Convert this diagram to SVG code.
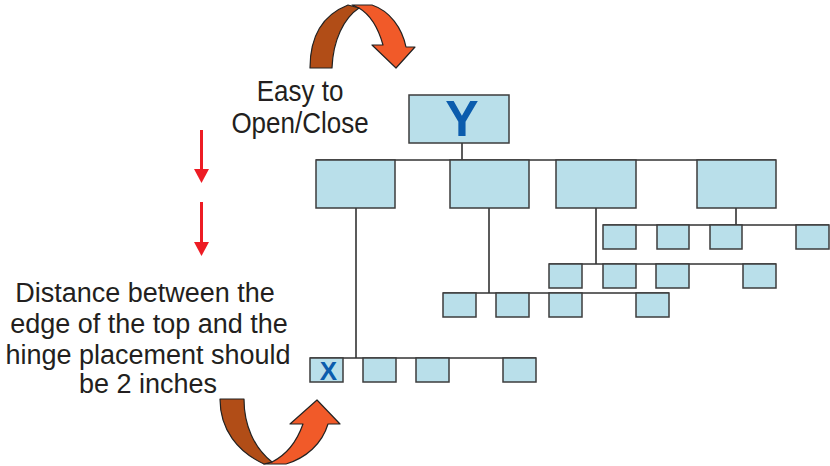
<svg xmlns="http://www.w3.org/2000/svg" width="830" height="466" viewBox="0 0 830 466">
<defs>
<style>
.box{fill:#b9dfea;stroke:#3d3d3d;stroke-width:1.5}
.ln{stroke:#333;stroke-width:1.6;fill:none}
.lbl{font-family:"Liberation Sans",Arial,sans-serif;fill:#231f20;text-anchor:middle}
.big{font-family:"Liberation Sans",Arial,sans-serif;font-weight:bold;fill:#0b5cad;text-anchor:middle}
.red{stroke:#ed1c24;stroke-width:3;fill:none}
.brown{fill:#b14d17;stroke:#222;stroke-width:1.2;stroke-linejoin:round}
.orange{fill:#f15a29;stroke:#222;stroke-width:1.2;stroke-linejoin:round}
</style>
<marker id="rh" viewBox="0 0 14 15" markerWidth="14" markerHeight="15" refX="6" refY="7.5" orient="auto" markerUnits="userSpaceOnUse">
<path d="M0,0 L14,7.5 L0,15 Z" fill="#ed1c24"/>
</marker>
</defs>
<rect width="830" height="466" fill="#fff"/>

<g id="connectors">
<path class="ln" d="M462,143 V160 M316,160 H776"/>
<path class="ln" d="M356,208 V358 M310,358 H536"/>
<path class="ln" d="M489,208 V293 M443,293 H669"/>
<path class="ln" d="M596,208 V264 M549,264 H776"/>
<path class="ln" d="M736,208 V225 M603,225 H829"/>
</g>

<g id="node-Y"><rect class="box" x="409" y="95" width="100" height="48"/><text class="big" x="462" y="136" font-size="50">Y</text></g>
<g id="node-L1"><rect class="box" x="316" y="160" width="79" height="48"/></g>
<g id="node-L2"><rect class="box" x="450" y="160" width="79" height="48"/></g>
<g id="node-L3"><rect class="box" x="556" y="160" width="80" height="48"/></g>
<g id="node-L4"><rect class="box" x="697" y="160" width="79" height="48"/></g>

<g id="node-d1"><rect class="box" x="603" y="225" width="33" height="24"/></g>
<g id="node-d2"><rect class="box" x="657" y="225" width="32" height="24"/></g>
<g id="node-d3"><rect class="box" x="710" y="225" width="32" height="24"/></g>
<g id="node-d4"><rect class="box" x="796" y="225" width="33" height="24"/></g>

<g id="node-c1"><rect class="box" x="549" y="264" width="33" height="24"/></g>
<g id="node-c2"><rect class="box" x="603" y="264" width="33" height="24"/></g>
<g id="node-c3"><rect class="box" x="656" y="264" width="33" height="24"/></g>
<g id="node-c4"><rect class="box" x="743" y="264" width="33" height="24"/></g>

<g id="node-b1"><rect class="box" x="443" y="293" width="33" height="24"/></g>
<g id="node-b2"><rect class="box" x="496" y="293" width="33" height="24"/></g>
<g id="node-b3"><rect class="box" x="549" y="293" width="33" height="24"/></g>
<g id="node-b4"><rect class="box" x="636" y="293" width="33" height="24"/></g>

<g id="node-X"><rect class="box" x="310" y="358" width="33" height="24"/><text class="big" x="328.5" y="380" font-size="26">X</text></g>
<g id="node-a2"><rect class="box" x="363" y="358" width="33" height="24"/></g>
<g id="node-a3"><rect class="box" x="416" y="358" width="33" height="24"/></g>
<g id="node-a4"><rect class="box" x="503" y="358" width="33" height="24"/></g>

<g id="red-arrows">
<path class="red" d="M201.5,130 V175" marker-end="url(#rh)"/>
<path class="red" d="M201.5,202 V248" marker-end="url(#rh)"/>
</g>

<g id="hinge-top">
<path class="orange" d="M352,5 L372,5 C390,11 402,28 406,47 L415,47 L396,68 L372,45 L383,45 C378,27 369,14 359,8 Z"/>
<path class="brown" d="M310,68 C310,40 320,16 348,5 L359,8 C344,18 333,40 332,68 Z"/>
</g>

<g id="hinge-bottom">
<path class="orange" d="M264,464 L286,464 C306,458 322,444 328,424 L340,424 L317,400 L290,424 L303,424 C296,444 284,456 272,462 Z"/>
<path class="brown" d="M220,399 L244,399 C244,425 254,448 272,462 L264,464 C238,452 220,430 220,399 Z"/>
</g>

<g id="labels">
<text class="lbl" font-size="26" transform="translate(300,101) scale(1,1.11)">Easy to</text>
<text class="lbl" font-size="26" transform="translate(300,133) scale(1,1.11)">Open/Close</text>
<text class="lbl" font-size="27" x="145" y="302">Distance between the</text>
<text class="lbl" font-size="27" x="149" y="333">edge of the top and the</text>
<text class="lbl" font-size="27" x="148" y="364">hinge placement should</text>
<text class="lbl" font-size="27" x="148" y="393">be 2 inches</text>
</g>
</svg>
